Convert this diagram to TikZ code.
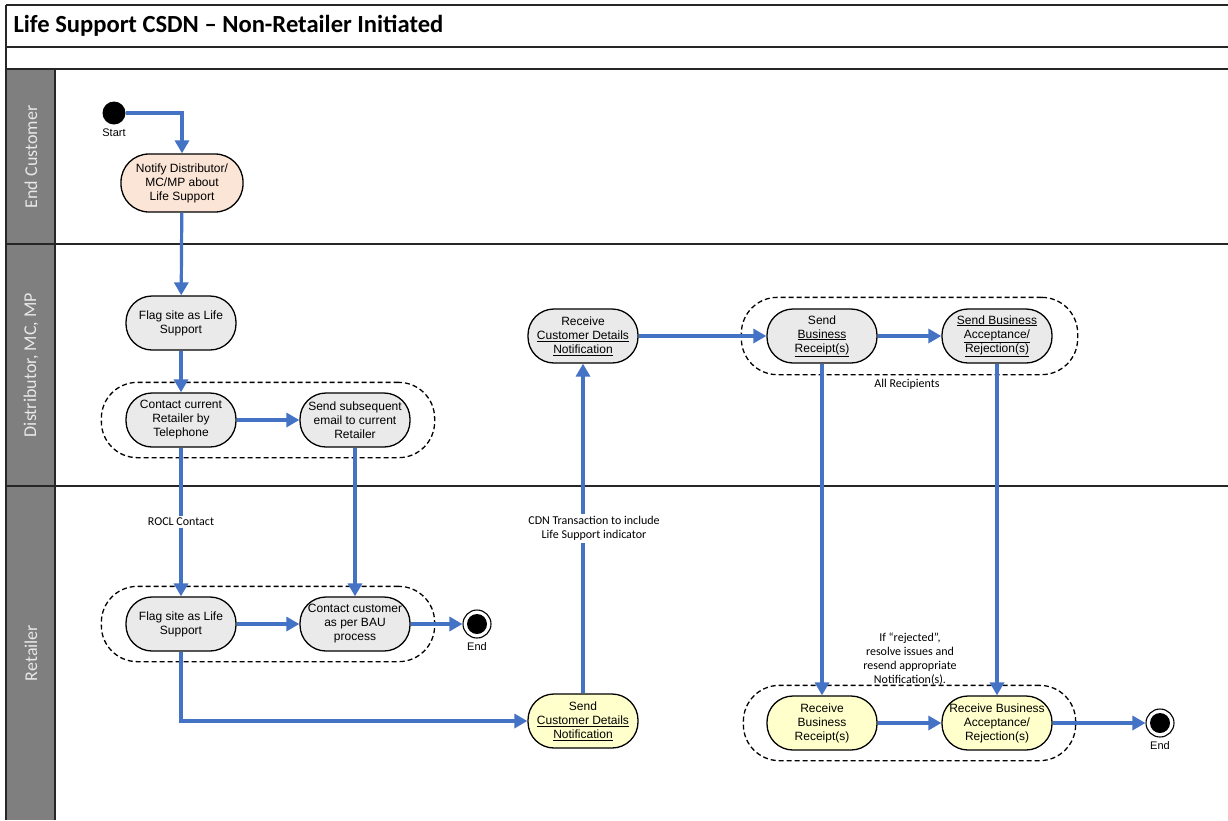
\documentclass[tikz,border=0pt]{standalone}
\usepackage{fontspec}
\setmainfont{Liberation Sans}
\newfontfamily\carlito{Carlito}
\usetikzlibrary{arrows.meta,fit}
\definecolor{flowblue}{RGB}{68,114,196}
\definecolor{actpeach}{RGB}{251,229,214}
\definecolor{actgrey}{RGB}{234,234,234}
\definecolor{actyellow}{RGB}{255,255,204}
\definecolor{lanegrey}{RGB}{127,127,127}
\definecolor{lanetext}{RGB}{232,232,232}
\begin{document}
\begin{tikzpicture}[x=1pt,y=-1pt,
    act/.style={draw,line width=1.3pt,rounded corners=26pt,minimum width=110pt,minimum height=54pt,
        align=center,inner sep=1pt,font=\fontsize{12}{14}\selectfont},
    peachact/.style={act,fill=actpeach,minimum width=122pt,minimum height=58pt,rounded corners=28pt},
    greyact/.style={act,fill=actgrey},
    yellowact/.style={act,fill=actyellow},
    grp/.style={draw,dash pattern=on 5pt off 3pt,line width=1.3pt,rounded corners=36pt,inner xsep=24pt,inner ysep=10pt},
    flow/.style={draw=flowblue,line width=3.2pt,-{Triangle[length=13pt,width=14pt]}},
    note/.style={font=\carlito\fontsize{12}{14}\selectfont,align=center},
    lanetxt/.style={rotate=90,text=lanetext,font=\carlito\fontsize{18}{20}\selectfont},
    frame/.style={line width=1.3pt,draw=black!85}]
    \useasboundingbox (0,0) rectangle (1228,820);
    % swimlane frame
    \fill[lanegrey] (6,69) rectangle (55,820);
    \draw[frame] (6,5) -- (1228,5);
    \draw[frame] (6,47) -- (1228,47);
    \draw[frame] (6,69) -- (1228,69);
    \draw[frame] (6,244) -- (1228,244);
    \draw[frame] (6,486) -- (1228,486);
    \draw[frame] (6,5) -- (6,820);
    \draw[frame] (55,69) -- (55,820);
    \node[anchor=west,font=\carlito\bfseries\fontsize{24.6}{28}\selectfont] (title) at (10,26) {Life Support CSDN – Non-Retailer Initiated};
    \node[lanetxt] (laneEC) at (31,157) {End Customer};
    \node[lanetxt] (laneDist) at (31,365) {Distributor, MC, MP};
    \node[lanetxt] (laneRet) at (31,653) {Retailer};
    % end customer
    \node[circle,fill=black,minimum size=23pt,inner sep=0pt,label={[font=\fontsize{11}{13}\selectfont,label distance=1pt]below:Start}] (start) at (114,113) {};
    \node[peachact] (notify) at (182,183) {Notify Distributor/\\MC/MP about\\Life Support};
    % distributor
    \node[greyact] (flagD) at (181,323) {Flag site as Life\\Support};
    \node[greyact] (contactR) at (181,420) {Contact current\\Retailer by\\Telephone};
    \node[greyact] (sendMail) at (355,420) {Send subsequent\\email to current\\Retailer};
    \node[greyact] (recvCDN) at (583,336) {Receive\\\underline{Customer Details}\\\underline{Notification}};
    \node[greyact] (sendBR) at (822,336) {Send\\\underline{Business}\\\underline{Receipt(s)}};
    \node[greyact] (sendBA) at (997,336) {\underline{Send Business}\\\underline{Acceptance/}\\\underline{Rejection(s)}};
    \node[grp,fit=(contactR)(sendMail)] (grpContact) {};
    \node[grp,inner xsep=25pt,inner ysep=11pt,fit=(sendBR)(sendBA)] (grpSend) {};
    \node[note] (allRecip) at (907,384) {All Recipients};
    % retailer
    \node[greyact] (flagR) at (181,624) {Flag site as Life\\Support};
    \node[greyact] (contactC) at (355,624) {Contact customer\\as per BAU\\process};
    \node[grp,fit=(flagR)(contactC)] (grpFlag) {};
    \node[circle,draw,line width=1.1pt,fill=white,minimum size=28pt,inner sep=0pt,label={[font=\fontsize{11}{13}\selectfont,label distance=0pt]below:End}] (end1) at (477,624) {};
    \fill (end1.center) circle (10pt);
    \node[yellowact] (sendCDN) at (583,721) {Send\\\underline{Customer Details}\\\underline{Notification}};
    \node[yellowact] (recvBR) at (822,723) {Receive\\Business\\Receipt(s)};
    \node[yellowact] (recvBA) at (997,723) {Receive Business\\Acceptance/\\Rejection(s)};
    \node[grp,inner xsep=23pt,inner ysep=10pt,fit=(recvBR)(recvBA)] (grpRecv) {};
    \node[circle,draw,line width=1.1pt,fill=white,minimum size=28pt,inner sep=0pt,label={[font=\fontsize{11}{13}\selectfont,label distance=0pt]below:End}] (end2) at (1160,723) {};
    \fill (end2.center) circle (10pt);
    \node[note] (rejNote) at (910,659) {If “rejected”,\\resolve issues and\\resend appropriate\\Notification(s).};
    % flows
    \draw[flow] (start) -| (notify);
    \draw[flow] (notify) -- (flagD);
    \draw[flow] (flagD) -- (contactR);
    \draw[flow] (contactR) -- (sendMail);
    \draw[flow] (contactR) -- node[note,fill=white,inner sep=2pt] {ROCL Contact} (flagR);
    \draw[flow] (sendMail) -- (contactC);
    \draw[flow] (flagR) -- (contactC);
    \draw[flow] (contactC) -- (end1);
    \draw[flow] (flagR) |- (sendCDN);
    \draw[flow] (sendCDN) -- node[note,fill=white,inner sep=2pt,xshift=11pt] {CDN Transaction to include\\Life Support indicator} (recvCDN);
    \draw[flow] (recvCDN) -- (sendBR);
    \draw[flow] (sendBR) -- (sendBA);
    \draw[flow] (sendBR) -- (recvBR);
    \draw[flow] (sendBA) -- (recvBA);
    \draw[flow] (recvBR) -- (recvBA);
    \draw[flow] (recvBA) -- (end2);
\end{tikzpicture}
\end{document}
